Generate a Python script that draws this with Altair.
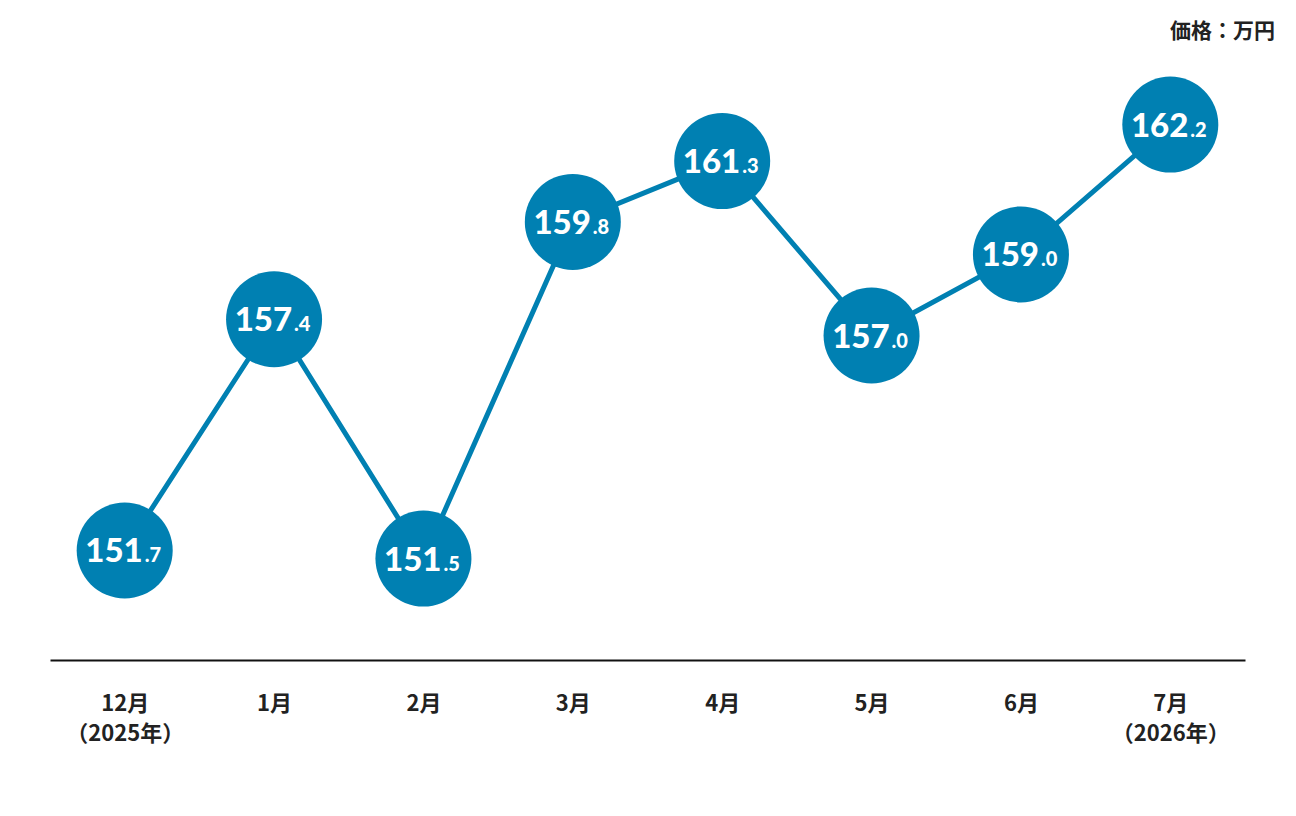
import altair as alt
import pandas as pd

months = ["12月|（2025年）", "1月", "2月", "3月", "4月", "5月", "6月", "7月|（2026年）"]
prices = [151.7, 157.4, 151.5, 159.8, 161.3, 157.0, 159.0, 162.2]
unit_label = "価格：万円"

df = pd.DataFrame({
    "month": months,
    "price": prices,
    "intpart": [f"{p:.1f}".split(".")[0] for p in prices],
    "decpart": ["." + f"{p:.1f}".split(".")[1] for p in prices],
})

BLUE = "#0080B2"
JP = "Noto Sans CJK JP"
NUM = "Lato"

x = alt.X("month:N", sort=months, scale=alt.Scale(paddingInner=0, paddingOuter=0),
          axis=alt.Axis(title=None, labelExpr="split(datum.value, '|')", labelAngle=0,
                        labelFont=JP, labelFontSize=22, labelFontWeight="bold",
                        labelColor="#222222", labelPadding=33, labelLineHeight=30,
                        labelBaseline="top",
                        ticks=False, domainColor="#111111", domainWidth=2, grid=False))
y = alt.Y("price:Q", scale=alt.Scale(domain=[149, 165], nice=False, zero=False), axis=None)

base = alt.Chart(df).encode(x=x, y=y)

line = base.mark_line(color=BLUE, strokeWidth=5)
dots = base.mark_point(filled=True, color=BLUE, opacity=1, size=9216, shape="circle")
int_text = base.mark_text(align="right", baseline="alphabetic", dx=18, dy=12,
                          font=NUM, fontSize=33, fontWeight=900, color="white").encode(text="intpart:N")
dec_text = base.mark_text(align="left", baseline="alphabetic", dx=20, dy=12,
                          font=NUM, fontSize=20, fontWeight=900, color="white").encode(text="decpart:N")

unit = alt.Chart(pd.DataFrame({"t": [unit_label]})).mark_text(
    align="right", baseline="middle", font=JP, fontSize=21, fontWeight="bold", color="#222222"
).encode(text="t:N", x=alt.value(1225), y=alt.value(21))

chart = alt.layer(line, dots, int_text, dec_text, unit).properties(
    width=1195, height=649,
    padding={"left": 42, "top": 3, "right": 40, "bottom": 140},
    autosize=alt.AutoSizeParams(type="none"),
).configure(background="white").configure_view(strokeWidth=0, stroke="transparent")

chart.save("out.html", embed_options={"renderer": "svg", "actions": False})
